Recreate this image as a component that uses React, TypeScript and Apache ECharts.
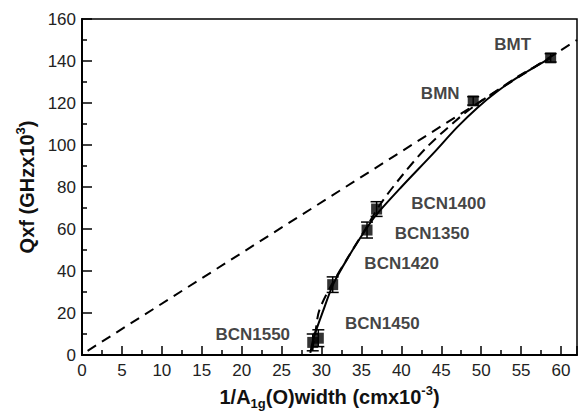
import React, { useEffect, useRef } from "react";
import * as echarts from "echarts";

// Measured samples
const pointNames = ["BCN1550", "BCN1450", "BCN1420", "BCN1350", "BCN1400", "BMN", "BMT"];
const pointX = [28.9, 29.6, 31.4, 35.7, 36.9, 49.0, 58.7];
const pointY = [6, 8, 33.5, 59.5, 69.5, 121, 141.5];
const pointErr = [4, 4, 3.7, 3.8, 3.5, 2, 2];

// Solid curve
const solidX = [28.6, 29.0, 30.2, 31.5, 33.5, 35.5, 36.8, 40, 44, 47, 49.6, 52, 54.9, 58.7];
const solidY = [1, 8, 21, 34, 47.5, 59.5, 66.5, 80, 96, 108.5, 118, 125.5, 133, 141.5];

// Dashed curve
const dashX = [28.8, 29.2, 29.7, 31.2, 33.4, 35.5, 37.4, 40, 43.2, 47.4, 49.3, 52, 55, 58.7];
const dashY = [2, 10, 21, 33, 47, 60, 72, 85, 99, 113.5, 119, 126, 133.5, 141.5];

// Straight dashed line
const straightX = [0.7, 62];
const straightY = [2, 150];

// label offsets (px) from each point
const labelDX = [-60, 64, 69, 65, 72, -33, -38];
const labelDY = [-8, -15, -21, 3, -6, -7, -13];

const FONT = "'Liberation Sans', Arial, Helvetica, sans-serif";

export default function App() {
  const ref = useRef<HTMLDivElement>(null);
  useEffect(() => {
    if (!ref.current) return;
    const chart = echarts.init(ref.current, undefined, { renderer: "svg" });
    const zip = (xs: number[], ys: number[]) => xs.map((x, i) => [x, ys[i]]);
    const option: any = {
      animation: false,
      backgroundColor: "#fff",
      textStyle: { fontFamily: FONT },
      grid: {
        left: 82,
        top: 19,
        right: 1,
        bottom: 65,
        show: true,
        borderColor: "#000",
        borderWidth: 1.5,
      },
      xAxis: {
        type: "value",
        min: 0,
        max: 62,
        interval: 5,
        name: "{b|1/A}{sub|1g}{b|(O)width (cmx10}{sup|-3}{b|)}",
        nameLocation: "middle",
        nameGap: 27,
        nameTextStyle: {
          rich: {
            b: { fontSize: 20, fontWeight: "bold", color: "#111", fontFamily: FONT, lineHeight: 26, verticalAlign: "middle" },
            sub: { fontSize: 13, fontWeight: "bold", color: "#111", fontFamily: FONT, lineHeight: 12, verticalAlign: "bottom" },
            sup: { fontSize: 13, fontWeight: "bold", color: "#111", fontFamily: FONT, lineHeight: 12, verticalAlign: "top" },
          },
        },
        axisLine: { show: true, onZero: false, lineStyle: { color: "#000", width: 2 } },
        axisTick: { show: true, inside: true, length: 9, lineStyle: { color: "#000", width: 1.5 } },
        minorTick: { show: true, splitNumber: 2, length: 5, lineStyle: { color: "#000", width: 1.5 } },
        axisLabel: { color: "#222", fontSize: 17, margin: 7, fontFamily: FONT, showMaxLabel: false },
        splitLine: { show: false },
      },
      yAxis: {
        type: "value",
        min: 0,
        max: 160,
        interval: 20,
        name: "{b|Qxf (GHzx10}{sup|3}{b|)}",
        nameLocation: "middle",
        nameGap: 41,
        nameTextStyle: {
          rich: {
            b: { fontSize: 20, fontWeight: "bold", color: "#111", fontFamily: FONT, lineHeight: 26, verticalAlign: "middle" },
            sup: { fontSize: 13, fontWeight: "bold", color: "#111", fontFamily: FONT, lineHeight: 12, verticalAlign: "top" },
          },
        },
        axisLine: { show: true, onZero: false, lineStyle: { color: "#000", width: 2 } },
        axisTick: { show: true, inside: true, length: 10, lineStyle: { color: "#000", width: 1.5 } },
        minorTick: { show: true, splitNumber: 2, length: 5, lineStyle: { color: "#000", width: 1.5 } },
        axisLabel: { color: "#222", fontSize: 17, margin: 6, fontFamily: FONT },
        splitLine: { show: false },
      },
      series: [
        {
          type: "line",
          data: zip(straightX, straightY),
          symbol: "none",
          lineStyle: { color: "#000", width: 2, type: [10, 7] },
          z: 2,
        },
        {
          type: "line",
          data: zip(dashX, dashY),
          symbol: "none",
          smooth: 0.3,
          lineStyle: { color: "#000", width: 2, type: [10, 6] },
          z: 2,
        },
        {
          type: "line",
          data: zip(solidX, solidY),
          symbol: "none",
          smooth: 0.3,
          lineStyle: { color: "#000", width: 2 },
          z: 3,
        },
        {
          type: "custom",
          data: pointX.map((x, i) => [x, pointY[i], pointErr[i]]),
          renderItem: (params: any, api: any) => {
            const x = api.value(0);
            const y = api.value(1);
            const e = api.value(2);
            const top = api.coord([x, y + e]);
            const bot = api.coord([x, y - e]);
            const hw = 6;
            const st = { stroke: "#000", lineWidth: 1.5 };
            return {
              type: "group",
              children: [
                { type: "line", shape: { x1: top[0], y1: top[1], x2: bot[0], y2: bot[1] }, style: st },
                { type: "line", shape: { x1: top[0] - hw, y1: top[1], x2: top[0] + hw, y2: top[1] }, style: st },
                { type: "line", shape: { x1: bot[0] - hw, y1: bot[1], x2: bot[0] + hw, y2: bot[1] }, style: st },
              ],
            };
          },
          z: 4,
        },
        {
          type: "scatter",
          symbol: "rect",
          symbolSize: [11, 11],
          itemStyle: { color: "#000" },
          data: pointX.map((x, i) => ({
            value: [x, pointY[i]],
            label: {
              show: true,
              formatter: pointNames[i],
              position: "inside",
              offset: [labelDX[i], labelDY[i]],
              align: "center",
              verticalAlign: "middle",
              color: "#111",
              fontWeight: "bold",
              fontSize: 17,
              fontFamily: FONT,
            },
          })),
          z: 5,
        },
      ],
    };
    chart.setOption(option);
    return () => chart.dispose();
  }, []);
  return (
    <div
      ref={ref}
      style={{ position: "fixed", left: 0, top: 0, width: 578, height: 420, background: "#fff" }}
    />
  );
}
